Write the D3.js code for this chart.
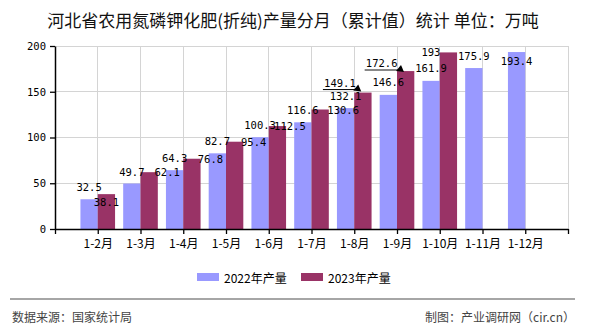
<!DOCTYPE html>
<html><head><meta charset="utf-8">
<script src="https://cdn.jsdelivr.net/npm/d3@7"></script>
<style>
body{margin:0;background:#fff;}
svg{display:block;}
</style></head>
<body>
<svg id="chart" width="590" height="330"></svg>
<script>
const categories = ["1-2月","1-3月","1-4月","1-5月","1-6月","1-7月","1-8月","1-9月","1-10月","1-11月","1-12月"];
const values2022 = [32.5,49.7,64.3,82.7,100.3,116.6,132.1,146.6,161.9,175.9,193.4];
const values2023 = [38.1,62.1,76.8,95.4,112.5,130.6,149.1,172.6,193];
const seriesNames = ["2022年产量","2023年产量"];
const yTicks = [0,50,100,150,200];
const titleText = "河北省农用氮磷钾化肥(折纯)产量分月（累计值）统计 单位：万吨";
const sourceText = "数据来源：国家统计局";
const creditText = "制图：产业调研网（cir.cn）";

// label layout nudges (text centre relative to bar centre / bar top)
const nudge2022 = [[0,-12],[0,-12],[0,-12],[0,-12],[0,-12],[0,-12],[0,-12],[0,-13],[0,-13],[0,-12],[0,9]];
const nudge2023 = [[0,8],[18,0],[18.5,0],[19,0],[12.5,0],[23,0],[-23,-10],[-24,-8],[-17.5,0]];
const leader2023 = [null,null,null,null,null,null,"#000","#888",null];

const colors = ["#9999FF","#993366"];
const svg = d3.select("#chart");
const L = 55, R = 568, T = 46, B = 229;
const x = d3.scaleLinear().domain([0,12]).range([L,R]);
const y = d3.scaleLinear().domain([0,200]).range([B,T]);
const band = x(1)-x(0);
const bw = band*0.405;

// title
svg.append("text").attr("x",293).attr("y",19).attr("text-anchor","middle")
  .attr("dominant-baseline","central")
  .style("font-family","'Noto Sans CJK SC',sans-serif").style("font-size","17px").style("fill","#111")
  .text(titleText);

// grid
svg.append("g").selectAll("line").data(yTicks.filter(d=>d>0)).join("line")
  .attr("x1",L).attr("x2",R).attr("y1",d=>y(d)).attr("y2",d=>y(d))
  .attr("stroke","#d4d4d4").attr("stroke-width",1).attr("shape-rendering","crispEdges");
svg.append("g").selectAll("line").data(d3.range(1,13)).join("line")
  .attr("x1",d=>x(d)).attr("x2",d=>x(d)).attr("y1",T).attr("y2",B)
  .attr("stroke","#d4d4d4").attr("stroke-width",1).attr("shape-rendering","crispEdges");

// bars
const g = svg.append("g");
g.selectAll("rect.s22").data(values2022).join("rect").attr("class","s22")
  .attr("x",(d,i)=>x(i+1)-bw).attr("width",bw)
  .attr("y",d=>y(d)).attr("height",d=>B-y(d)).attr("fill",colors[0]);
g.selectAll("rect.s23").data(values2023).join("rect").attr("class","s23")
  .attr("x",(d,i)=>x(i+1)).attr("width",bw)
  .attr("y",d=>y(d)).attr("height",d=>B-y(d)).attr("fill",colors[1]);

// axes
const yAxis = svg.append("g").attr("transform",`translate(${L},0)`)
  .call(d3.axisLeft(y).tickValues(yTicks).tickSize(5).tickPadding(4).tickSizeOuter(0));
yAxis.selectAll("text").style("font-family","'DejaVu Sans Mono',monospace").style("font-size","10.5px").style("fill","#000");
const xAxis = svg.append("g").attr("transform",`translate(0,${B})`)
  .call(d3.axisBottom(x).tickValues(d3.range(0,13)).tickFormat(i=>categories[i-1]||"").tickSize(5).tickPadding(5).tickSizeOuter(0));
xAxis.selectAll("text").style("font-family","'Noto Sans CJK SC',sans-serif").style("font-size","12px").style("fill","#000");
svg.selectAll(".domain").attr("stroke","#000").attr("stroke-width",1.5);
svg.selectAll(".tick line").attr("stroke","#000").attr("stroke-width",1.3);

// data labels
const lab = svg.append("g").style("font-family","'DejaVu Sans Mono',monospace").style("font-size","10.5px").style("fill","#000");
values2022.forEach((v,i)=>{
  lab.append("text").attr("x",x(i+1)-bw/2+nudge2022[i][0]).attr("y",y(v)+nudge2022[i][1])
    .attr("text-anchor","middle").attr("dominant-baseline","central").text(v);
});
values2023.forEach((v,i)=>{
  const tx = x(i+1)+bw/2+nudge2023[i][0], ty = y(v)+nudge2023[i][1];
  if(leader2023[i]){
    const ax = x(i+1)+3, ay = y(v)-2;
    lab.append("line").attr("x1",tx-17).attr("x2",ax).attr("y1",ty+7).attr("y2",ty+7)
      .attr("stroke",leader2023[i]).attr("stroke-width",leader2023[i]==="#000"?1:2);
    lab.append("path").attr("d",`M${ax-4},${ty+8}L${ax+1},${ty+2}L${ax+4},${ty+9}Z`).attr("fill","#000");
  }
  lab.append("text").attr("x",tx).attr("y",ty)
    .attr("text-anchor","middle").attr("dominant-baseline","central").text(v);
});

// legend
const legX = [197,301];
seriesNames.forEach((n,i)=>{
  svg.append("rect").attr("x",legX[i]).attr("y",273).attr("width",22).attr("height",8).attr("fill",colors[i]);
  svg.append("text").attr("x",legX[i]+27).attr("y",277).attr("dominant-baseline","central")
    .style("font-family","'Noto Sans CJK SC',sans-serif").style("font-size","12px").style("fill","#000").text(n);
});

// footer
svg.append("line").attr("x1",10).attr("x2",575).attr("y1",299).attr("y2",299).attr("stroke","#888").attr("stroke-width",1.3);
svg.append("text").attr("x",12).attr("y",316).attr("dominant-baseline","central")
  .style("font-family","'Noto Sans CJK SC',sans-serif").style("font-size","12px").style("fill","#444").text(sourceText);
svg.append("text").attr("x",575).attr("y",316).attr("text-anchor","end").attr("dominant-baseline","central")
  .style("font-family","'Noto Sans CJK SC',sans-serif").style("font-size","12px").style("fill","#444").text(creditText);
</script>
</body></html>
